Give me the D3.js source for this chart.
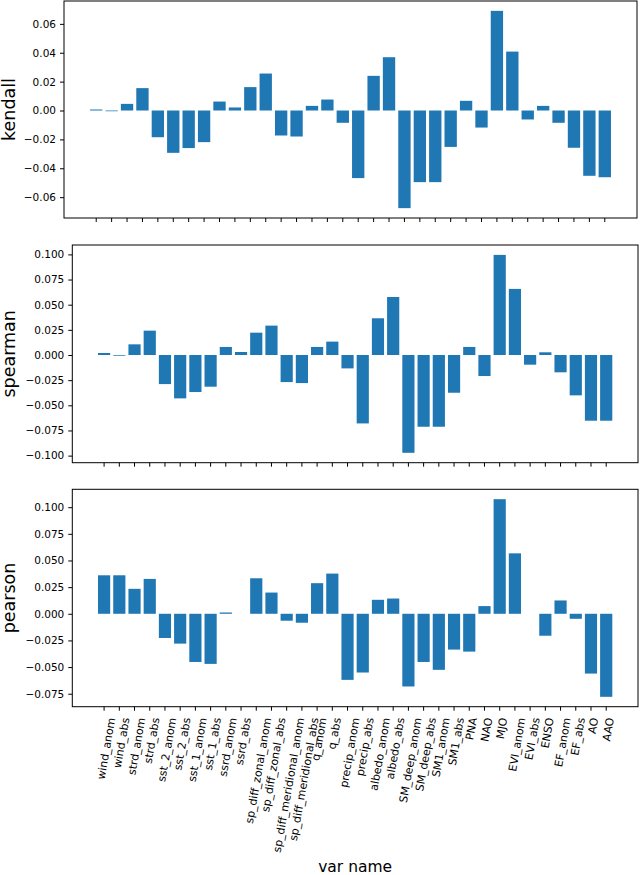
<!DOCTYPE html>
<html>
<head>
<meta charset="utf-8">
<script src="https://cdn.jsdelivr.net/npm/d3@7"></script>
<style>
  body { margin: 0; background: #fff; }
  svg { display: block; font-family: "DejaVu Sans", sans-serif; }
</style>
</head>
<body>
<div class="canvas"></div>
<script>
const varNames = ["wind_anom", "wind_abs", "strd_anom", "strd_abs", "sst_2_anom", "sst_2_abs",
    "sst_1_anom", "sst_1_abs", "ssrd_anom", "ssrd_abs", "sp_diff_zonal_anom", "sp_diff_zonal_abs",
    "sp_diff_meridional_anom", "sp_diff_meridional_abs", "q_anom", "q_abs", "precip_anom", "precip_abs",
    "albedo_anom", "albedo_abs", "SM_deep_anom", "SM_deep_abs", "SM1_anom", "SM1_abs", "PNA", "NAO",
    "MJO", "EVI_anom", "EVI_abs", "ENSO", "EF_anom", "EF_abs", "AO", "AAO"]

const kendall = [0.0007, -0.0005, 0.0046, 0.0155, -0.0185, -0.0293, -0.026, -0.0219, 0.0062, 0.0021,
    0.0162, 0.0256, -0.0173, -0.018, 0.0032, 0.0076, -0.0085, -0.0468, 0.024, 0.0369,
    -0.0676, -0.0496, -0.0496, -0.0252, 0.0067, -0.0118, 0.069, 0.0408, -0.0062, 0.0032,
    -0.0085, -0.0258, -0.0452, -0.0462]

const spearman = [0.002, -0.0007, 0.0106, 0.0242, -0.0289, -0.0431, -0.0368, -0.0315, 0.008, 0.003,
    0.0222, 0.0292, -0.0269, -0.0279, 0.008, 0.0133, -0.0133, -0.068, 0.0365, 0.0577,
    -0.0972, -0.0713, -0.0713, -0.0375, 0.008, -0.0209, 0.0995, 0.0657, -0.0096, 0.0027,
    -0.0172, -0.0401, -0.0653, -0.0653]

const pearson = [0.0361, 0.0361, 0.0234, 0.0327, -0.0227, -0.028, -0.0452, -0.047, 0.0012, 0.0,
    0.0333, 0.0199, -0.0065, -0.0084, 0.0287, 0.0377, -0.062, -0.0551, 0.0131, 0.0143,
    -0.0682, -0.0452, -0.0526, -0.0336, -0.0355, 0.0072, 0.1075, 0.0567, 0.0, -0.0206,
    0.0125, -0.0047, -0.0561, -0.0779]

const kendallTicks = [-0.06, -0.04, -0.02, 0, 0.02, 0.04, 0.06]
const spearmanTicks = [-0.1, -0.075, -0.05, -0.025, 0, 0.025, 0.05, 0.075, 0.1]
const pearsonTicks = [-0.075, -0.05, -0.025, 0, 0.025, 0.05, 0.075, 0.1]

const width = 640
const height = 875
const barColor = "#1f77b4"

const svg = d3.select(".canvas")
    .append("svg")
    .attr("width", width)
    .attr("height", height)

// axes boxes
const panels = [
    { label: "kendall", values: kendall, ticks: kendallTicks, digits: 2, left: 64, right: 637, top: 1, bottom: 218 },
    { label: "spearman", values: spearman, ticks: spearmanTicks, digits: 3, left: 72.3, right: 638, top: 245, bottom: 462.7 },
    { label: "pearson", values: pearson, ticks: pearsonTicks, digits: 3, left: 72.3, right: 638, top: 489.3, bottom: 706.7 }
]

const minus = s => s.replace("-", "\u2212")

panels.forEach((p, i) => {
    const g = svg.append("g")

    // matplotlib style 5% margins
    const lo = Math.min(0, d3.min(p.values))
    const hi = Math.max(0, d3.max(p.values))
    const pad = (hi - lo) * 0.05

    const scaleY = d3.scaleLinear()
        .domain([lo - pad, hi + pad])
        .range([p.bottom, p.top])

    const scaleX = d3.scaleBand()
        .domain(varNames)
        .range([p.left, p.right])
        .paddingInner(0.2)
        .paddingOuter(1.69)

    g.selectAll("rect.bar")
        .data(p.values)
        .enter()
        .append("rect")
        .attr("class", "bar")
        .attr("x", (d, k) => scaleX(varNames[k]))
        .attr("width", scaleX.bandwidth())
        .attr("y", d => Math.min(scaleY(d), scaleY(0)))
        .attr("height", d => Math.abs(scaleY(d) - scaleY(0)))
        .attr("fill", barColor)

    const yAxis = d3.axisLeft(scaleY)
        .tickValues(p.ticks)
        .tickSize(4)
        .tickPadding(4)
        .tickFormat(d => minus(d.toFixed(p.digits)))

    const yAxisGroup = g.append("g")
        .attr("transform", `translate(${p.left}, 0)`)
        .call(yAxis)
    yAxisGroup.select(".domain").remove()
    yAxisGroup.selectAll("text")
        .attr("font-size", "10.5px")
        .attr("font-family", "DejaVu Sans")
        .attr("fill", "#000")

    const xAxis = d3.axisBottom(scaleX)
        .tickSize(4)
        .tickFormat(i === 2 ? (d => d) : "")

    const xAxisGroup = g.append("g")
        .attr("transform", `translate(0, ${p.bottom})`)
        .call(xAxis)
    xAxisGroup.select(".domain").remove()

    if (i === 2) {
        xAxisGroup.selectAll("text")
            .attr("font-size", "11px")
            .attr("font-family", "DejaVu Sans")
            .attr("fill", "#000")
            .attr("text-anchor", "end")
            .attr("dy", "0.35em")
            .attr("y", 0)
            .attr("transform", function () {
                const len = this.getComputedTextLength()
                const dx = len / 2 * Math.cos(80 * Math.PI / 180) + 2
                return `translate(${dx}, 11) rotate(-80)`
            })
    }

    // frame
    g.append("rect")
        .attr("x", p.left)
        .attr("y", p.top)
        .attr("width", p.right - p.left)
        .attr("height", p.bottom - p.top)
        .attr("fill", "none")
        .attr("stroke", "#000")
        .attr("stroke-width", 1)

    g.append("text")
        .attr("transform", `translate(14.5, ${(p.top + p.bottom) / 2}) rotate(-90)`)
        .attr("text-anchor", "middle")
        .attr("font-size", "17.5px")
        .attr("fill", "#000")
        .text(p.label)
})

svg.append("text")
    .attr("x", (72.3 + 638) / 2)
    .attr("y", 872)
    .attr("text-anchor", "middle")
    .attr("font-size", "15.5px")
    .attr("fill", "#000")
    .text("var name")
</script>
</body>
</html>
